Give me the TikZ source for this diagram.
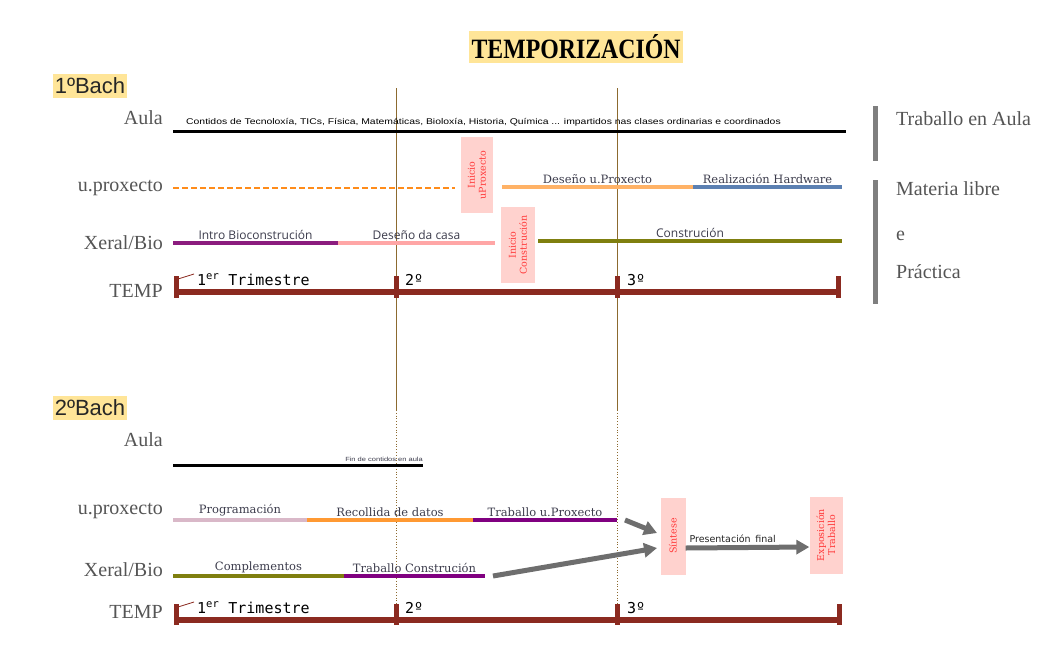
\documentclass[tikz,border=0pt]{standalone}
\usepackage{fontspec}
\setmainfont{Liberation Serif}
\newfontfamily\dejaserif{DejaVu Serif}
\newfontfamily\opensans{Open Sans}
\newfontfamily\libsans{Liberation Sans}
\newfontfamily\dejasans{DejaVu Sans}
\newfontfamily\dejamono{DejaVu Sans Mono}
\usetikzlibrary{arrows.meta}
\definecolor{yellowbg}{HTML}{FFE598}
\definecolor{labgray}{HTML}{555555}
\definecolor{bartext}{HTML}{3C3C4C}
\definecolor{tempred}{HTML}{8B2A20}
\definecolor{guidebrown}{HTML}{8C6A2F}
\definecolor{dashorange}{HTML}{FF8C1A}
\definecolor{lorange}{HTML}{FFB266}
\definecolor{orange2}{HTML}{FF9933}
\definecolor{hwblue}{HTML}{5B80B2}
\definecolor{purple1}{HTML}{8B1C7E}
\definecolor{purple2}{HTML}{800080}
\definecolor{casapink}{HTML}{FFA6A6}
\definecolor{olive1}{HTML}{7F7F0F}
\definecolor{progpink}{HTML}{D9B8C8}
\definecolor{hitopink}{HTML}{FFD2CE}
\definecolor{hitored}{HTML}{FF3B3B}
\definecolor{arrowgray}{HTML}{6E6E6E}
\definecolor{sepgray}{HTML}{7F7F7F}

\begin{document}
\begin{tikzpicture}[x=1pt,y=-1pt]
\tikzstyle{rowlabel}=[anchor=east, inner sep=0pt, text=labgray, font=\fontsize{20}{22}\selectfont]
\tikzstyle{sidelabel}=[anchor=west, inner sep=0pt, text=labgray, font=\fontsize{20}{22}\selectfont]
\tikzstyle{curso}=[fill=yellowbg, inner xsep=2pt, inner ysep=4pt, text=black!85, font=\libsans\fontsize{22}{24}\selectfont]
\tikzstyle{bar}=[line width=4pt]
\tikzstyle{serlab}=[above, inner sep=1.5pt, text=bartext, font=\dejaserif\fontsize{11.5}{13}\selectfont]
\tikzstyle{sanlab}=[above, inner sep=1.5pt, text=bartext, font=\opensans\fontsize{12}{14}\selectfont]
\tikzstyle{aulaline}=[line width=3pt, black]
\tikzstyle{guide}=[guidebrown, line width=0.8pt]
\tikzstyle{templine}=[tempred, line width=6pt]
\tikzstyle{tick}=[tempred, line width=5pt]
\tikzstyle{trim}=[anchor=base west, inner sep=0pt, font=\dejamono\fontsize{15}{17}\selectfont]
\tikzstyle{hito}=[fill=hitopink, rotate=90, align=center, inner sep=0pt, text=hitored, font=\dejaserif\fontsize{9.5}{11}\selectfont]
\tikzstyle{flecha}=[arrowgray, line width=5pt, -{Triangle[length=13pt, width=14pt]}]
\tikzstyle{sep}=[sepgray, line width=5pt]

\useasboundingbox (0,0) rectangle (1044,645);
\fill[white] (0,0) rectangle (1044,645);

% titulo
\node[fill=yellowbg, inner xsep=3pt, inner ysep=4pt, font=\bfseries\fontsize{28}{30}\selectfont] (titulo) at (576,47)
  {\scalebox{0.85}[1]{TEMPORIZACIÓN}};

% guias dos trimestres
\coordinate (g2top) at (396,88);
\coordinate (g2mid) at (396,410);
\coordinate (g2bot) at (396,625);
\coordinate (g3top) at (617,88);
\coordinate (g3mid) at (617,410);
\coordinate (g3bot) at (617,625);
\draw[guide] (g2top) -- (g2mid);
\draw[guide, dotted, line width=1pt] (g2mid) -- (g2bot);
\draw[guide] (g3top) -- (g3mid);
\draw[guide, dotted, line width=1pt] (g3mid) -- (g3bot);

%%%%%%%% 1º Bach
\node[curso] (bach1) at (90,86) {1ºBach};

\node[rowlabel] (aula1) at (163,118) {Aula};
\node[rowlabel] (proxecto1) at (163,188) {u.proxecto};
\node[rowlabel] (xeral1) at (163,243) {Xeral/Bio};
\node[rowlabel] (temp1) at (163,291) {TEMP};

% aula
\coordinate (au1a) at (173,131);
\coordinate (au1b) at (846,131);
\draw[aulaline] (au1a) -- (au1b);
\node[anchor=base west, inner sep=0pt, font=\libsans\fontsize{10.4}{12}\selectfont] (contidos) at (186,124)
  {\scalebox{1}[0.8]{Contidos de Tecnoloxía, TICs, Física, Matemáticas, Bioloxía, Historia, Química ... impartidos nas clases ordinarias e coordinados}};

% u.proxecto
\coordinate (up1a) at (173,188);
\coordinate (up1b) at (455,188);
\coordinate (up1c) at (502,187);
\coordinate (up1d) at (693,187);
\coordinate (up1e) at (842,187);
\draw[dashorange, line width=1.5pt, dash pattern=on 6pt off 3pt] (up1a) -- (up1b);
\node[hito, minimum width=76pt, minimum height=32pt] (inicioup) at (477,175) {Inicio\\uProxecto};
\draw[bar, lorange] (up1c) -- node[serlab] {Deseño u.Proxecto} (up1d);
\draw[bar, hwblue] (up1d) -- node[serlab] {Realización Hardware} (up1e);

% xeral
\coordinate (xe1a) at (173,243);
\coordinate (xe1b) at (338,243);
\coordinate (xe1c) at (495,243);
\coordinate (xe1d) at (538,241);
\coordinate (xe1e) at (842,241);
\draw[bar, purple1] (xe1a) -- node[sanlab] {Intro Bioconstrución} (xe1b);
\draw[bar, casapink] (xe1b) -- node[sanlab] {Deseño da casa} (xe1c);
\node[hito, minimum width=76pt, minimum height=34pt] (iniciocons) at (518,245) {Inicio\\Construción};
\draw[bar, olive1] (xe1d) -- node[sanlab] {Construción} (xe1e);

% temp
\coordinate (te1a) at (175,292);
\coordinate (te1b) at (840,292);
\draw[templine] (te1a) -- (te1b);
\foreach \x in {176,396,617,838}
  \draw[tick] (\x,276) -- (\x,298);
\coordinate (fl1) at (194,274);
\draw[tempred, line width=0.8pt] (178,279) -- (fl1);
\node[trim] (trim1a) at (197,285) {1\textsuperscript{er} Trimestre};
\node[trim] (trim1b) at (405,285) {2º};
\node[trim] (trim1c) at (627,285) {3º};

% lateral
\draw[sep] (875,106) -- (875,161);
\draw[sep] (875,180) -- (875,304);
\node[sidelabel] (tauls) at (896,119) {Traballo en Aula};
\node[sidelabel] (mlibre) at (896,189) {Materia libre};
\node[sidelabel] (econx) at (896,236) {e};
\node[sidelabel] (practica) at (896,272) {Práctica};

%%%%%%%% 2º Bach
\node[curso] (bach2) at (90,408) {2ºBach};

\node[rowlabel] (aula2) at (163,440) {Aula};
\node[rowlabel] (proxecto2) at (163,511) {u.proxecto};
\node[rowlabel] (xeral2) at (163,570) {Xeral/Bio};
\node[rowlabel] (temp2) at (163,612) {TEMP};

% aula
\coordinate (au2a) at (173,465);
\coordinate (au2b) at (423,465);
\draw[aulaline] (au2a) -- (au2b);
\node[anchor=base east, inner sep=0pt, text=bartext, font=\libsans\fontsize{7.5}{8}\selectfont] (fincont) at (423,461)
  {\scalebox{1}[0.8]{Fin de contidos en aula}};

% u.proxecto
\coordinate (up2a) at (173,520);
\coordinate (up2b) at (307,520);
\coordinate (up2c) at (473,520);
\coordinate (up2d) at (617,520);
\draw[bar, progpink] (up2a) -- node[serlab] {Programación} (up2b);
\draw[bar, orange2] (up2b) -- node[serlab] {Recollida de datos} (up2c);
\draw[bar, purple2] (up2c) -- node[serlab] {Traballo u.Proxecto} (up2d);

% xeral
\coordinate (xe2a) at (173,576);
\coordinate (xe2b) at (344,576);
\coordinate (xe2c) at (485,576);
\draw[bar, olive1] (xe2a) -- node[serlab] {Complementos} (xe2b);
\draw[bar, purple2] (xe2b) -- node[serlab] {Traballo Construción} (xe2c);

% sintese e exposicion
\node[hito, minimum width=77pt, minimum height=25pt] (sintese) at (673,536) {Síntese};
\node[hito, minimum width=77pt, minimum height=33pt] (expo) at (826,535) {Exposición\\Traballo};
\coordinate (ar1a) at (625,520);
\coordinate (ar1b) at (657,533);
\coordinate (ar2a) at (493,576);
\coordinate (ar2b) at (657,548);
\draw[flecha] (ar1a) -- (ar1b);
\draw[flecha] (ar2a) -- (ar2b);
\draw[flecha] ([yshift=-12pt]sintese.south) -- node[above, pos=0.38, inner sep=2pt, text=black!85, font=\dejasans\fontsize{9.5}{11}\selectfont] {Presentación\, final} ([yshift=-12pt]expo.north);

% temp
\coordinate (te2a) at (175,620);
\coordinate (te2b) at (840,620);
\draw[templine] (te2a) -- (te2b);
\foreach \x in {176,396,617,839}
  \draw[tick] (\x,604) -- (\x,625);
\coordinate (fl2) at (194,602);
\draw[tempred, line width=0.8pt] (178,607) -- (fl2);
\node[trim] (trim2a) at (197,613) {1\textsuperscript{er} Trimestre};
\node[trim] (trim2b) at (405,613) {2º};
\node[trim] (trim2c) at (627,613) {3º};
\end{tikzpicture}
\end{document}
